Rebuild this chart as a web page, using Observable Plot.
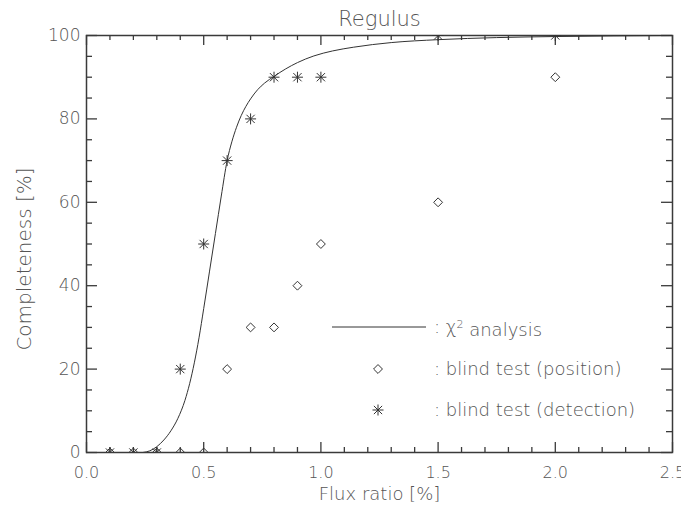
<!DOCTYPE html>
<html>
<head>
<meta charset="utf-8">
<script src="https://cdn.jsdelivr.net/npm/d3@7"></script>
<script src="https://cdn.jsdelivr.net/npm/@observablehq/plot@0.6"></script>
<style>
  html, body { margin: 0; padding: 0; background: #fff; }
  #wrap { position: relative; width: 681px; height: 506px; }
  #overlay { position: absolute; left: 0; top: 0; pointer-events: none; }
</style>
</head>
<body>
<div id="wrap"></div>
<script>
// ---- data ----
const fluxRatio = [0.1, 0.2, 0.3, 0.4, 0.5, 0.6, 0.7, 0.8, 0.9, 1.0, 1.5, 2.0];
const detection = [0, 0, 0, 20, 50, 70, 80, 90, 90, 90, 100, 100];
const position  = [0, 0, 0, 0, 0, 20, 30, 30, 40, 50, 60, 90];

const chi2X = [0.24, 0.27, 0.30, 0.33, 0.36, 0.39, 0.42, 0.44, 0.46, 0.48, 0.50, 0.525, 0.55, 0.575, 0.60, 0.62, 0.64, 0.66, 0.68, 0.70, 0.73, 0.76, 0.80, 0.85, 0.90, 0.97, 1.05, 1.14, 1.30, 1.50, 1.75, 2.0, 2.5];
const chi2Y = [0, 0.4, 1.4, 3.0, 5.2, 8.2, 12.5, 16.5, 21.5, 27.5, 34.5, 43.5, 52.5, 61.5, 70, 74.5, 78, 80.8, 83, 84.8, 87, 88.6, 90.2, 92, 93.5, 95.1, 96.3, 97.2, 98.3, 99, 99.5, 99.75, 100];

const xMajorTicks = [0, 0.5, 1.0, 1.5, 2.0, 2.5];
const xMinorTicks = [0.1, 0.2, 0.3, 0.4, 0.6, 0.7, 0.8, 0.9, 1.1, 1.2, 1.3, 1.4, 1.6, 1.7, 1.8, 1.9, 2.1, 2.2, 2.3, 2.4];
const yMajorTicks = [0, 20, 40, 60, 80, 100];
const yMinorTicks = [5, 10, 15, 25, 30, 35, 45, 50, 55, 65, 70, 75, 85, 90, 95];

const titleText = "Regulus";
const xLabel = "Flux ratio [%]";
const yLabel = "Completeness [%]";
const legendLabels = ["analysis", ": blind test (position)", ": blind test (detection)"];

// ---- build tables ----
const detData = fluxRatio.map((x, i) => ({x, y: detection[i]}));
const posData = fluxRatio.map((x, i) => ({x, y: position[i]}));
const curveData = chi2X.map((x, i) => ({x, y: chi2Y[i]}));

const asterisk = {
  draw(ctx, size) {
    const r = Math.sqrt(size / Math.PI);
    const d = r * 0.75;
    ctx.moveTo(-r, 0); ctx.lineTo(r, 0);
    ctx.moveTo(0, -r); ctx.lineTo(0, r);
    ctx.moveTo(-d, -d); ctx.lineTo(d, d);
    ctx.moveTo(-d, d); ctx.lineTo(d, -d);
  }
};

const ink = "#333";
const textColor = "#555";
const axisColor = "#3a3a3a";
const font = "'DejaVu Sans', sans-serif";

const W = 681, H = 506, mL = 86, mR = 9, mT = 35, mB = 54;
const xDom = [0, 2.5], yDom = [0, 100];
const plotW = W - mL - mR, plotH = H - mT - mB;
// tick lengths in pixels, converted to data units for the rule marks
const majorLen = 10, minorLen = 5;
const yu = (px) => px * (yDom[1] - yDom[0]) / plotH;
const xu = (px) => px * (xDom[1] - xDom[0]) / plotW;

const tickStyle = {stroke: axisColor, strokeWidth: 1.3};
const xTickMarks = (vals, len) => [
  Plot.ruleX(vals, {x: d => d, y1: yDom[0], y2: yDom[0] + yu(len), ...tickStyle}),
  Plot.ruleX(vals, {x: d => d, y1: yDom[1], y2: yDom[1] - yu(len), ...tickStyle})
];
const yTickMarks = (vals, len) => [
  Plot.ruleY(vals, {y: d => d, x1: xDom[0], x2: xDom[0] + xu(len), ...tickStyle}),
  Plot.ruleY(vals, {y: d => d, x1: xDom[1], x2: xDom[1] - xu(len), ...tickStyle})
];

const chart = Plot.plot({
  width: W,
  height: H,
  marginLeft: mL,
  marginRight: mR,
  marginTop: mT,
  marginBottom: mB,
  style: {background: "#fff", color: textColor, fontFamily: font, fontSize: "16px", fontWeight: 200},
  x: {domain: xDom},
  y: {domain: yDom},
  marks: [
    ...xTickMarks(xMajorTicks, majorLen),
    ...xTickMarks(xMinorTicks, minorLen),
    ...yTickMarks(yMajorTicks, majorLen + 1),
    ...yTickMarks(yMinorTicks, minorLen + 1),
    Plot.axisX({anchor: "bottom", ticks: xMajorTicks, tickSize: 0, tickPadding: 14, tickFormat: d3.format(".1f"), label: null, fontSize: 16}),
    Plot.axisY({anchor: "left", ticks: yMajorTicks, tickSize: 0, tickPadding: 6, tickFormat: d3.format("d"), label: null, fontSize: 17}),
    Plot.frame({stroke: axisColor, strokeWidth: 1.5}),
    Plot.line(curveData, {x: "x", y: "y", curve: "monotone-x", stroke: ink, strokeWidth: 1, clip: true}),
    Plot.dot(posData, {x: "x", y: "y", symbol: "diamond2", r: 4, stroke: ink, strokeWidth: 1, fill: "none", clip: true}),
    Plot.dot(detData, {x: "x", y: "y", symbol: asterisk, r: 5.5, stroke: ink, strokeWidth: 1, fill: "none", clip: true}),
    Plot.text([titleText], {frameAnchor: "top", dy: -16, fontSize: 21, fill: textColor, lineAnchor: "middle", textAnchor: "middle"}),
    Plot.text([xLabel], {frameAnchor: "bottom", dy: 42, fontSize: 18, fill: textColor, lineAnchor: "middle", textAnchor: "middle"}),
    Plot.text([yLabel], {frameAnchor: "left", dx: -62, dy: 15, rotate: -90, fontSize: 20, fill: textColor, lineAnchor: "middle", textAnchor: "middle"})
  ]
});

const wrap = document.getElementById("wrap");
wrap.appendChild(chart);

// ---- legend overlay ----
const ov = d3.select(wrap).append("svg")
  .attr("id", "overlay")
  .attr("width", W).attr("height", H)
  .style("font-family", font).style("font-size", "18px").style("font-weight", 200);

const rowY = [327, 369, 410];
const textX = 434;
const symX = 378;

ov.append("line").attr("x1", 332).attr("x2", 426).attr("y1", rowY[0]).attr("y2", rowY[0])
  .attr("stroke", ink).attr("stroke-width", 1);
ov.append("path").attr("transform", `translate(${symX},${rowY[1]})`)
  .attr("d", d3.symbol(d3.symbolDiamond2, Math.PI * 16)()).attr("fill", "none").attr("stroke", ink);
ov.append("path").attr("transform", `translate(${symX},${rowY[2]})`)
  .attr("d", d3.symbol(asterisk, Math.PI * 5.5 * 5.5)()).attr("fill", "none").attr("stroke", ink);

const t0 = ov.append("text").attr("x", textX).attr("y", rowY[0]).attr("dy", "0.35em").attr("fill", textColor);
t0.append("tspan").text(": χ");
t0.append("tspan").attr("dy", "-0.45em").attr("font-size", "11px").text("2");
t0.append("tspan").attr("dy", "0.45em").text(" " + legendLabels[0]);
ov.append("text").attr("x", textX).attr("y", rowY[1]).attr("dy", "0.35em").attr("fill", textColor).text(legendLabels[1]);
ov.append("text").attr("x", textX).attr("y", rowY[2]).attr("dy", "0.35em").attr("fill", textColor).text(legendLabels[2]);
</script>
</body>
</html>
